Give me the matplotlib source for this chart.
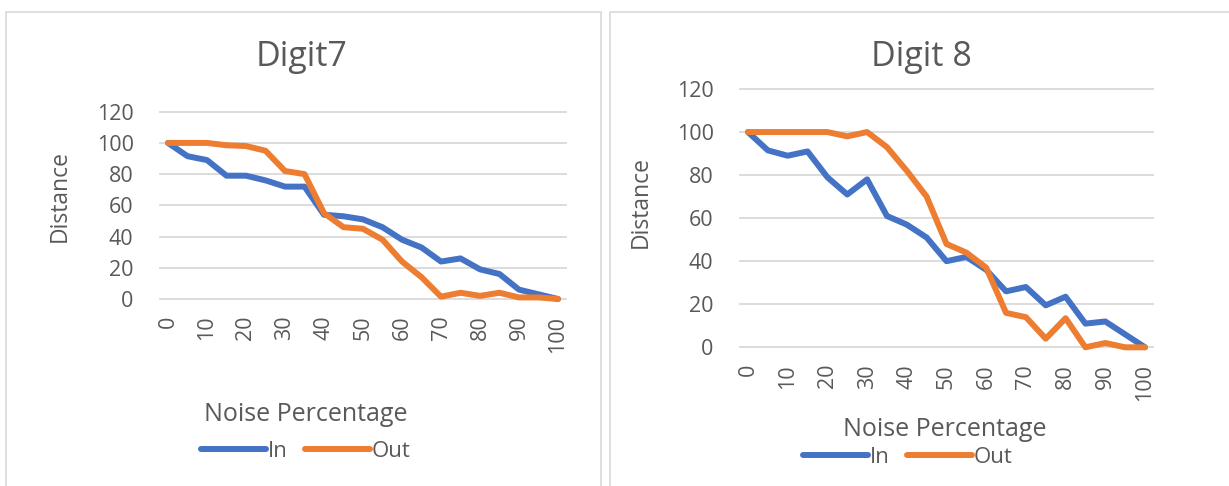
import matplotlib
matplotlib.use("Agg")
import matplotlib.pyplot as plt
from matplotlib.patches import Rectangle

plt.rcParams['font.family'] = ['Open Sans', 'DejaVu Sans']

# noise percentage, sampled every 5
noise = [0, 5, 10, 15, 20, 25, 30, 35, 40, 45, 50, 55, 60, 65, 70, 75, 80, 85, 90, 95, 100]
tick_vals = [0, 10, 20, 30, 40, 50, 60, 70, 80, 90, 100]

digit7_in = [100, 91.5, 89, 79, 79, 76, 72, 72, 54, 53, 51, 46, 38, 33, 24, 26, 19, 16, 6, 3, 0]
digit7_out = [100, 100, 100, 98.5, 98, 95, 82, 80, 55, 46, 45, 38, 24, 14, 1.5, 4, 2, 4, 1, 1, 0]

digit8_in = [100, 91.5, 89, 91, 79, 71, 78, 61, 57, 51, 40, 42, 36, 26, 28, 19.5, 23.5, 11, 12, 6, 0]
digit8_out = [100, 100, 100, 100, 100, 98, 100, 93, 82, 70, 48, 44, 37, 16, 14, 4, 13.5, 0, 2, 0, 0]

BLUE = '#4472C4'
ORANGE = '#ED7D31'
TXT = '#595959'
GRID = '#D9D9D9'

W, H = 1229, 486
fig = plt.figure(figsize=(W / 100, H / 100), dpi=100)

# panel frames (pixel coords from top-left)
for x0, x1 in [(6, 601), (610, 1240)]:
    fig.patches.append(Rectangle((x0 / W, -0.05), (x1 - x0) / W, 1.05 - 12 / H,
                                 transform=fig.transFigure, fill=False,
                                 edgecolor='#D9D9D9', lw=1.2))


def px_axes(left, right, top, bottom):
    return fig.add_axes([left / W, 1 - bottom / H, (right - left) / W, (bottom - top) / H])


def draw(ax, y_in, y_out, title, title_xy, xlab_xy, ylab_xy, leg_xy, pad_frac):
    ax.plot(noise, y_in, color=BLUE, lw=4.3, solid_joinstyle='round',
            solid_capstyle='round', label='In', clip_on=False, zorder=3)
    ax.plot(noise, y_out, color=ORANGE, lw=4.3, solid_joinstyle='round',
            solid_capstyle='round', label='Out', clip_on=False, zorder=3)
    ax.set_xlim(-pad_frac, 100 + pad_frac)
    ax.set_ylim(0, 120)
    ax.set_yticks(range(0, 121, 20))
    ax.set_xticks(tick_vals)
    ax.set_xticklabels([str(v) for v in tick_vals], rotation=90)
    ax.yaxis.grid(True, color=GRID, lw=1.3)
    ax.set_axisbelow(True)
    for gl in ax.get_ygridlines():
        gl.set_clip_on(False)
    for s in ax.spines.values():
        s.set_visible(False)
    ax.tick_params(axis='y', length=0, pad=19, labelsize=15.5, labelcolor=TXT)
    ax.tick_params(axis='x', length=0, pad=12, labelsize=15.5, labelcolor=TXT)

    fig.text(title_xy[0] / W, 1 - title_xy[1] / H, title, fontsize=24.5,
             color=TXT, ha='center', va='baseline')
    fig.text(xlab_xy[0] / W, 1 - xlab_xy[1] / H, 'Noise Percentage', fontsize=18,
             color=TXT, ha='center', va='baseline')
    fig.text(ylab_xy[0] / W, 1 - ylab_xy[1] / H, 'Distance', fontsize=16.5,
             color=TXT, ha='center', va='center', rotation=90)
    fig.legend(handles=ax.get_lines(), loc='center',
               bbox_to_anchor=(leg_xy[0] / W, 1 - leg_xy[1] / H),
               ncol=2, frameon=False, fontsize=16, labelcolor=TXT,
               handlelength=2.9, handletextpad=0.1, columnspacing=0.8,
               borderpad=0, borderaxespad=0)


ax1 = px_axes(160, 566, 111.7, 299)
draw(ax1, digit7_in, digit7_out, 'Digit7', (302, 66), (306, 421), (60, 196), (306, 451), 8 / 3.9)

ax2 = px_axes(740, 1153, 89, 347.3)
draw(ax2, digit8_in, digit8_out, 'Digit 8', (921, 66), (945, 436), (641, 202), (908, 457), 8 / 3.97)

fig.savefig('out.png', dpi=100, facecolor='white')
